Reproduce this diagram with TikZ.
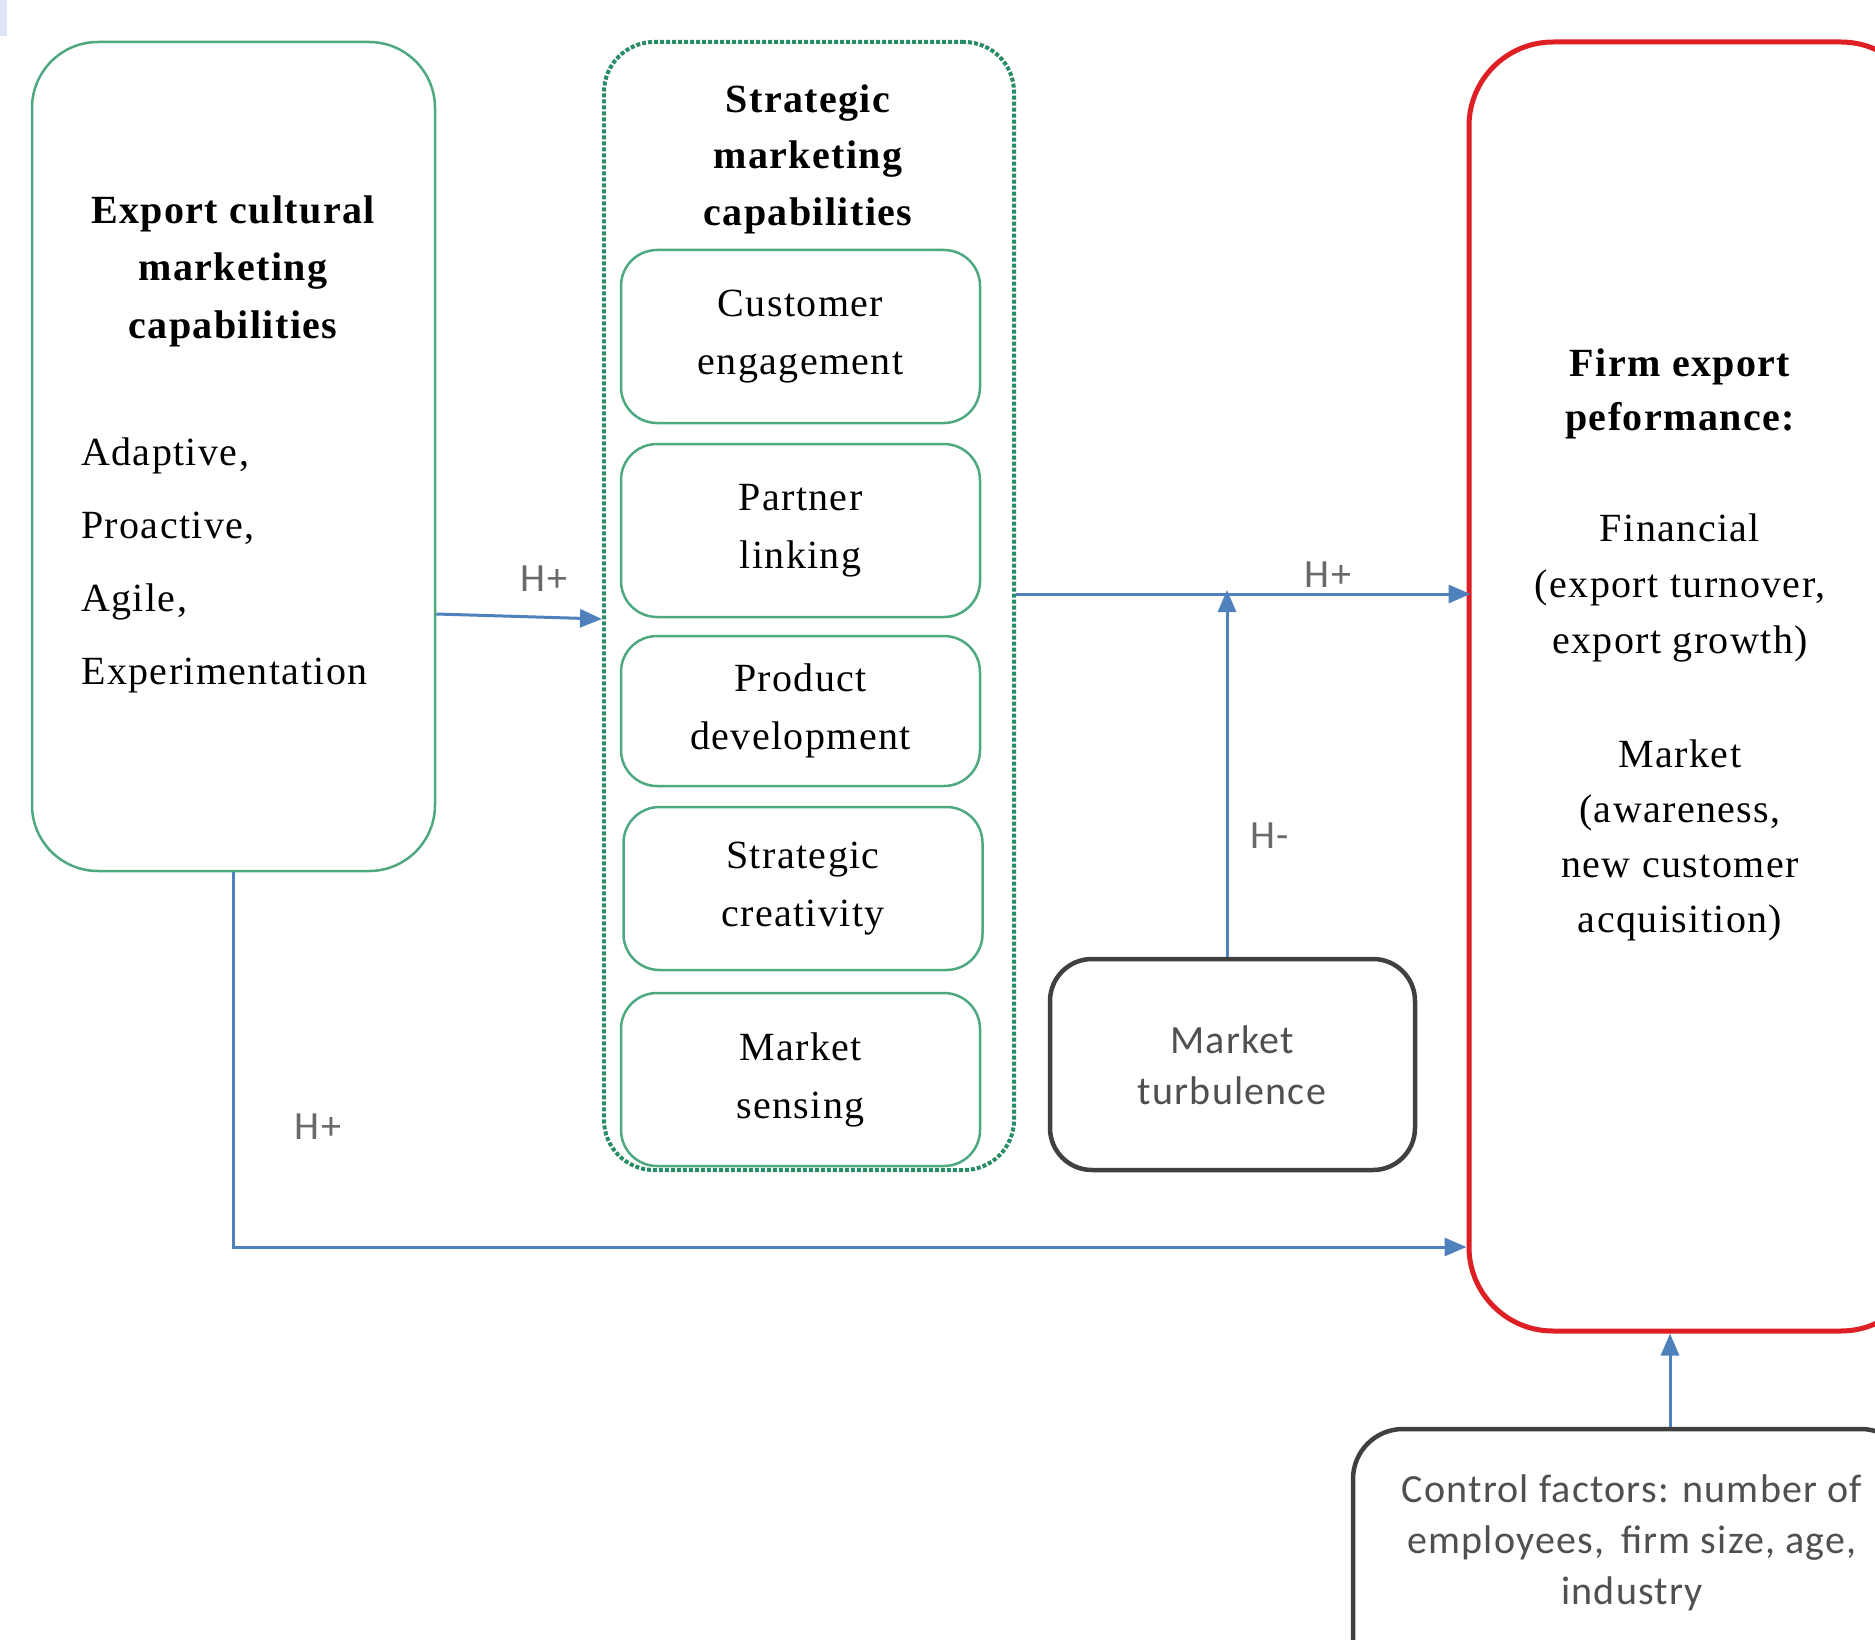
\documentclass[tikz,border=0pt]{standalone}
\usepackage{fontspec}
\setmainfont[LetterSpace=3.5]{Liberation Serif}
\newfontfamily\calibri[LetterSpace=3]{Carlito}
\usetikzlibrary{arrows.meta}
\definecolor{boxgreen}{RGB}{78,168,128}
\definecolor{dotgreen}{RGB}{40,140,100}
\definecolor{arrowblue}{RGB}{79,129,189}
\definecolor{redbox}{RGB}{222,32,36}
\definecolor{darkbox}{RGB}{64,64,64}
\definecolor{labelgray}{RGB}{105,105,105}
\definecolor{textgray}{RGB}{80,80,80}
\definecolor{artblue}{RGB}{220,230,246}
\begin{document}
\begin{tikzpicture}[x=1pt,y=-1pt,
  serif/.style={font=\fontsize{40}{#1}\selectfont, inner sep=0pt, align=center},
  serifb/.style={font=\fontsize{40}{#1}\selectfont\bfseries, inner sep=0pt, align=center},
  sans/.style={font=\calibri\fontsize{40}{#1}\selectfont, inner sep=0pt, align=center},
  greenbox/.style={draw=boxgreen, line width=2.5pt, rounded corners=#1, inner sep=0pt},
  innerbox/.style={greenbox=36pt, minimum width=359pt, serif=58},
  dotbox/.style={draw=dotgreen, line width=4pt, dotted, rounded corners=50pt, inner sep=0pt},
  darkrbox/.style={draw=darkbox, line width=4.5pt, rounded corners=#1, inner sep=0pt},
  redrbox/.style={draw=redbox, line width=5pt, rounded corners=84pt, inner sep=0pt},
  arr/.style={draw=arrowblue, line width=3pt, -{Triangle[length=22pt,width=18pt]}},
  hlabel/.style={font=\calibri\fontsize{40}{48}\selectfont, text=labelgray, inner sep=0pt}
]
\clip (0,0) rectangle (1875,1640);
\fill[white] (0,0) rectangle (1875,1640);
\fill[artblue] (0,0) rectangle (7,36);

% left box
\node[greenbox=66pt, minimum width=403pt, minimum height=829pt] (lb) at (233.5,456.5) {};
\node[serifb=57.5] (lbt) at (233,271) {Export cultural\\marketing\\capabilities};
\node[serif=73, anchor=west, align=left] (lbl) at (81,565) {Adaptive,\\Proactive,\\Agile,\\Experimentation};

% strategic marketing capabilities
\node[dotbox, minimum width=410pt, minimum height=1128pt] (smc) at (809,606) {};
\node[serifb=56.5] (smct) at (808,159) {Strategic\\marketing\\capabilities};
\node[innerbox, minimum height=173pt] (ce) at (800.5,336.5) {Customer\\engagement};
\node[innerbox, minimum height=173pt] (pl) at (800.5,530.5) {Partner\\linking};
\node[innerbox, minimum height=150pt] (pd) at (800.5,711) {Product\\development};
\node[innerbox, minimum height=163pt] (sc) at (803,888.5) {Strategic\\creativity};
\node[innerbox, minimum height=173pt] (ms) at (800.5,1079.5) {Market\\sensing};

% market turbulence
\node[darkrbox=42pt, minimum width=365pt, minimum height=211pt] (mt) at (1232.5,1064.5) {};
\node[sans=51, text=textgray] (mtt) at (1232,1065) {Market\\turbulence};

% firm export performance
\node[redrbox, minimum width=456pt, minimum height=1289pt] (fep) at (1697,686.5) {};
\node[serifb=54] (fept) at (1680,394) {Firm export\\peformance:};
\node[serif=56] (fepf) at (1680,588) {Financial\\(export turnover,\\export growth)};
\node[serif=55] (fepm) at (1680,840) {Market\\(awareness,\\new customer\\acquisition)};

% control factors
\node[darkrbox=50pt, minimum width=558pt, minimum height=291pt] (ctrl) at (1632,1574.5) {};
\node[sans=51, text=textgray] (ctrlt) at (1632,1543) {Control factors: number of\\employees,\, firm size, age,\\industry};

% connectors
\coordinate (jn) at (1227,594);
\draw[arr] (lb.east |- 0,614) -- (smc.west |- 0,619);
\draw[arr] (smc.east |- 0,594) -- ([xshift=4pt]fep.west |- 0,594);
\draw[arr] (mt.north -| jn) -- ([yshift=4pt]jn);
\draw[arr] (lb.south) -- (lb.south |- 0,1247) -- (fep.west |- 0,1247);
\draw[arr] (ctrl.north -| 1670,0) -- (fep.south -| 1670,0);

% labels
\node[hlabel] (h1) at (544,579) {H+};
\node[hlabel] (h2) at (1328,575) {H+};
\node[hlabel] (h3) at (1270,836) {H-};
\node[hlabel] (h4) at (318,1127) {H+};
\end{tikzpicture}
\end{document}
